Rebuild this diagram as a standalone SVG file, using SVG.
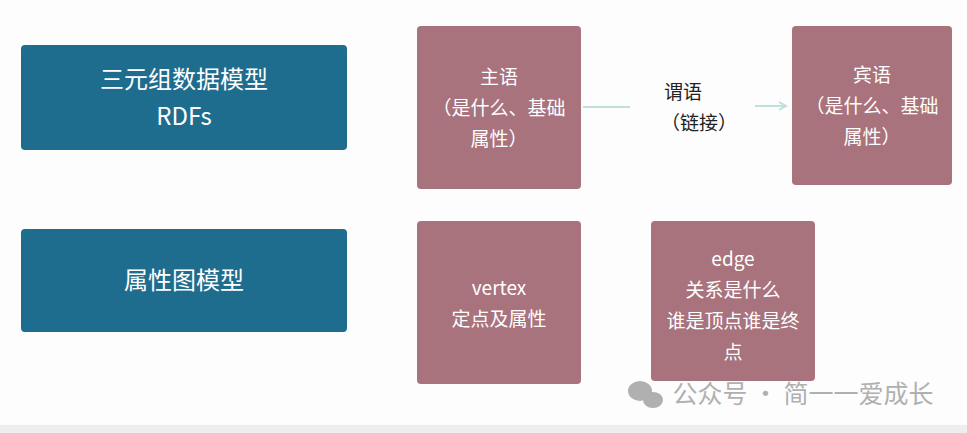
<svg xmlns="http://www.w3.org/2000/svg" width="967" height="433" viewBox="0 0 967 433">
<defs>
<style>
.blue{fill:#1f6d8e;}
.pink{fill:#a8737c;}
text{font-family:"Noto Sans CJK SC","Noto Sans",sans-serif;text-anchor:middle;}
.w{fill:#fff;font-size:19px;}
.big{fill:#fff;font-size:24px;}
.lbl{fill:#222;font-size:19px;}
.conn{stroke:#bfe0dc;stroke-width:2;fill:none;}
</style>
<marker id="ah" markerWidth="10" markerHeight="10" refX="8" refY="5" orient="auto" markerUnits="userSpaceOnUse"><path d="M1,1 L8,5 L1,9" fill="none" stroke="#bfe0dc" stroke-width="2"/></marker>
</defs>
<rect width="967" height="433" fill="#fdfdfd"/>
<rect y="425" width="967" height="8" fill="#eeeeee"/>
<g id="rdf"><rect class="blue" x="21" y="45" width="326" height="105" rx="4"/><text class="big" x="184" y="88">三元组数据模型</text><text class="big" x="184" y="125">RDFs</text></g>
<g id="prop"><rect class="blue" x="21" y="229" width="326" height="103" rx="4"/><text class="big" x="184" y="289">属性图模型</text></g>
<g id="subj"><rect class="pink" x="417" y="26" width="164" height="163" rx="4"/><text class="w" x="499" y="84">主语</text><text class="w" x="499" y="115">（是什么、基础</text><text class="w" x="499" y="146">属性）</text></g>
<g id="obj"><rect class="pink" x="792" y="26" width="160" height="159" rx="4"/><text class="w" x="872" y="82">宾语</text><text class="w" x="872" y="113">（是什么、基础</text><text class="w" x="872" y="144">属性）</text></g>
<g id="vertex"><rect class="pink" x="417" y="221" width="164" height="163" rx="4"/><text class="w" x="499" y="295">vertex</text><text class="w" x="499" y="326">定点及属性</text></g>
<g id="edge"><rect class="pink" x="651" y="221" width="164" height="160" rx="4"/><text class="w" x="733" y="266">edge</text><text class="w" x="733" y="297">关系是什么</text><text class="w" x="733" y="328">谁是顶点谁是终</text><text class="w" x="733" y="359">点</text></g>
<g id="connectors"><line class="conn" x1="583" y1="107" x2="630" y2="107"/><line class="conn" x1="755" y1="106" x2="786" y2="106" marker-end="url(#ah)"/></g>
<g id="label"><text class="lbl" x="683" y="99">谓语</text><text class="lbl" x="699" y="130">（链接）</text></g>
<g id="wm" fill="#b0b0b0"><ellipse cx="640" cy="391" rx="12" ry="10"/><ellipse cx="653" cy="400" rx="10" ry="8"/><text x="803" y="403" font-size="25" fill="#b0b0b0">公众号 · 简一一爱成长</text></g>
</svg>
